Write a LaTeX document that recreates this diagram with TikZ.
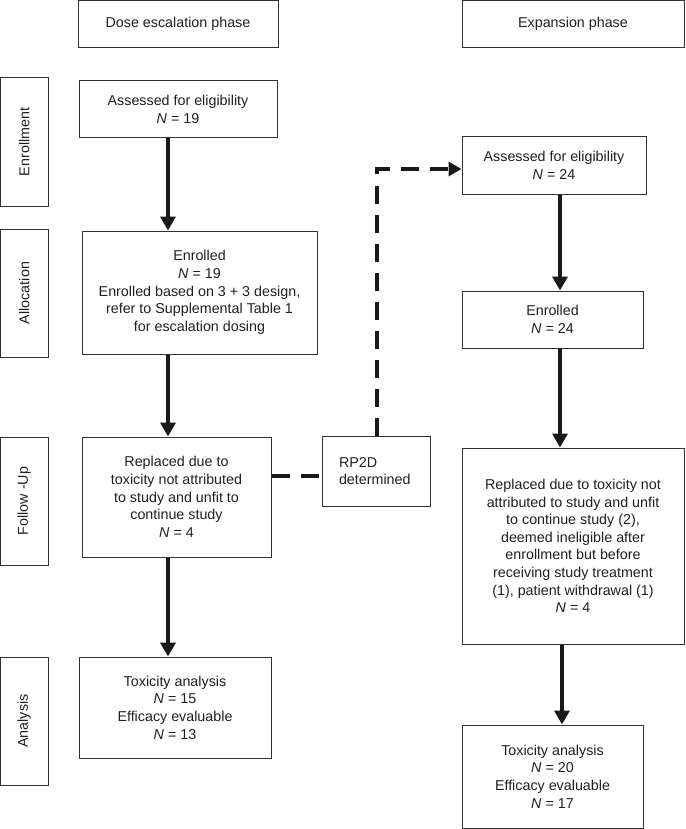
\documentclass[tikz,border=0pt]{standalone}
\usepackage{fontspec}
\setmainfont{Liberation Sans}
\usetikzlibrary{arrows.meta}
\begin{document}
\begin{tikzpicture}[x=1pt,y=-1pt,
  box/.style={draw=black!80, line width=1pt, align=center, inner sep=0pt,
    font=\fontsize{14.3}{17.6}\selectfont, text=black!88},
  arr/.style={line width=4pt, draw=black!90, -{Triangle[width=15pt,length=14pt]}},
  dashln/.style={line width=4pt, draw=black!90, dash pattern=on 18pt off 11pt, line join=miter},
]
\useasboundingbox (0,0) rectangle (685,829);
% headers
\node[box, minimum width=200pt, minimum height=47.5pt] (hdrL) at (178,24.25) {Dose escalation phase};
\node[box, minimum width=222pt, minimum height=47.5pt] (hdrR) at (573,24.25) {Expansion phase};
% stage labels
\node[box, rotate=90, minimum width=128pt, minimum height=47.5pt] (labEnr) at (24.25,142) {Enrollment};
\node[box, rotate=90, minimum width=128pt, minimum height=47.5pt] (labAll) at (24.25,293) {Allocation};
\node[box, rotate=90, minimum width=128pt, minimum height=47.5pt] (labFol) at (24.25,501) {Follow -Up};
\node[box, rotate=90, minimum width=128pt, minimum height=47.5pt] (labAna) at (24.25,721) {Analysis};
% left column
\node[box, minimum width=198pt, minimum height=57pt] (assL) at (178,109.5) {Assessed for eligibility\\\textit{N} = 19};
\node[box, minimum width=235pt, minimum height=123pt] (enrL) at (199.5,292.5) {Enrolled\\\textit{N} = 19\\Enrolled based on 3 + 3 design,\\refer to Supplemental Table 1\\for escalation dosing};
\node[box, minimum width=189pt, minimum height=120pt] (repL) at (176.5,497) {Replaced due to\\toxicity not attributed\\to study and unfit to\\continue study\\\textit{N} = 4};
\node[box, minimum width=192pt, minimum height=101pt] (toxL) at (175,707.5) {Toxicity analysis\\\textit{N} = 15\\Efficacy evaluable\\\textit{N} = 13};
% RP2D
\node[box, minimum width=108pt, minimum height=70pt, align=left, text width=74pt] (rp2d) at (376,471) {RP2D\\determined};
% right column
\node[box, minimum width=184pt, minimum height=57pt] (assR) at (554,165.5) {Assessed for eligibility\\\textit{N} = 24};
\node[box, minimum width=181pt, minimum height=57pt] (enrR) at (552.5,319.5) {Enrolled\\\textit{N} = 24};
\node[box, minimum width=222pt, minimum height=196pt] (repR) at (573,546) {Replaced due to toxicity not\\attributed to study and unfit\\to continue study (2),\\deemed ineligible after\\enrollment but before\\receiving study treatment\\(1), patient withdrawal (1)\\\textit{N} = 4};
\node[box, minimum width=181pt, minimum height=103pt] (toxR) at (552.5,776.5) {Toxicity analysis\\\textit{N} = 20\\Efficacy evaluable\\\textit{N} = 17};
% arrow columns
\coordinate (xl) at (168,0);
\coordinate (xr) at (560,0);
\coordinate (xr2) at (562,0);
\draw[arr] (assL.south -| xl) -- (enrL.north -| xl);
\draw[arr] (enrL.south -| xl) -- (repL.north -| xl);
\draw[arr] (repL.south -| xl) -- (toxL.north -| xl);
\draw[arr] (assR.south -| xr) -- (enrR.north -| xr);
\draw[arr] (enrR.south -| xr) -- (repR.north -| xr);
\draw[arr] (repR.south -| xr2) -- (toxR.north -| xr2);
% dashed connectors
\coordinate (dy) at (0,476);
\draw[dashln] (repL.east |- dy) -- (rp2d.west |- dy);
\coordinate (dx) at (377,0);
\coordinate (dc) at (377,169);
\draw[dashln, -{Triangle[width=14pt,length=13pt]}] (rp2d.north -| dx) -- (dc) -- (assR.west |- dc);
\end{tikzpicture}
\end{document}
